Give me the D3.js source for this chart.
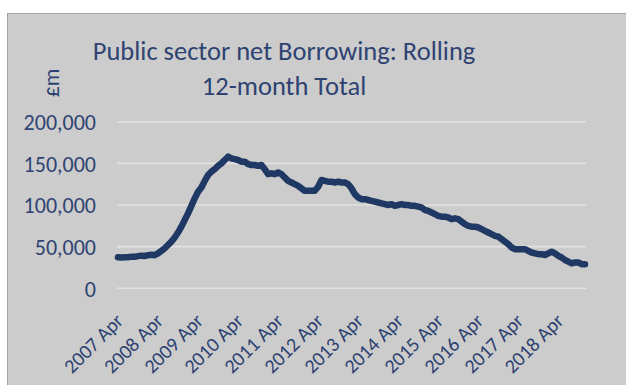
<!DOCTYPE html>
<html>
<head>
<meta charset="utf-8">
<script src="https://cdn.jsdelivr.net/npm/d3@7"></script>
<style>
  html, body { margin: 0; padding: 0; background: #ffffff; }
  svg { display: block; }
</style>
</head>
<body>
<svg id="chart" width="626" height="385"></svg>
<script>
// Rolling 12-month total of public sector net borrowing, £m (thousands), monthly Apr 2007 - Dec 2018
const startYear = 2007;
const monthNames = ["Jan","Feb","Mar","Apr","May","Jun","Jul","Aug","Sep","Oct","Nov","Dec"];
const borrowingK = [
  37.2, 37.0, 37.4, 37.3, 38.0, 37.8, 38.6, 39.2, 38.8, 39.8, 40.2, 39.8,
  42, 45, 48, 52, 56, 61, 67, 74, 82, 90, 99, 108,
  116, 121, 129, 136, 140, 143, 147, 150, 154, 158, 156, 155,
  154, 152, 152, 149, 148, 148, 147, 148, 143, 137, 138, 137,
  139, 137, 133, 129, 127, 125, 123, 120, 117, 117, 117, 117,
  122, 130, 129, 128, 128, 127, 128, 127, 127, 125, 120, 113,
  109, 107, 107, 106, 105, 104, 103, 102, 101, 100, 101, 99,
  100, 101, 100, 100, 99, 99, 98, 97, 94, 93, 91, 89,
  87, 86, 86, 85, 83, 84, 83, 80, 77, 75, 74, 74,
  73, 71, 69, 67, 65, 63, 62, 59, 56, 53, 49, 47,
  47, 47, 47, 45, 43, 42, 41, 41, 40, 42, 44, 42,
  39, 37, 34, 32, 30, 31, 31, 29, 29
];
const yTicks = [0, 50000, 100000, 150000, 200000];
const xTickLabels = ["2007 Apr","2008 Apr","2009 Apr","2010 Apr","2011 Apr","2012 Apr",
                     "2013 Apr","2014 Apr","2015 Apr","2016 Apr","2017 Apr","2018 Apr"];
const titleLines = ["Public sector net Borrowing: Rolling", "12-month Total"];
const unitLabel = "£m";

// Month labels, starting in April
const months = borrowingK.map((_, i) => {
  const m = 3 + i;
  return (startYear + Math.floor(m / 12)) + " " + monthNames[m % 12];
});
const series = months.map((m, i) => ({ month: m, value: borrowingK[i] * 1000 }));

const navy = "#1f3864";
const textColor = "#2e4372";
const font = "Carlito, 'Open Sans', 'Noto Sans', sans-serif";

const svg = d3.select("#chart");

// chart area
svg.append("rect")
  .attr("x", 7.5).attr("y", 13.5)
  .attr("width", 626).attr("height", 380)
  .attr("fill", "#cccccc")
  .attr("stroke", "#a3a3a3").attr("stroke-width", 1);

const x = d3.scalePoint().domain(months).range([118, 585]);
const y = d3.scaleLinear().domain([0, 200000]).range([288.3, 121.7]);

// gridlines
svg.append("g")
  .selectAll("line")
  .data(yTicks)
  .join("line")
  .attr("x1", 117).attr("x2", 586)
  .attr("y1", d => y(d)).attr("y2", d => y(d))
  .attr("stroke", "#e2e2e2").attr("stroke-width", 1.6);

// y axis labels
const yAxis = svg.append("g")
  .attr("transform", "translate(96,0)")
  .call(d3.axisLeft(y).tickValues(yTicks).tickSize(0).tickPadding(0)
    .tickFormat(d3.format(",")));
yAxis.select(".domain").remove();
yAxis.selectAll("text")
  .attr("fill", textColor)
  .attr("font-family", font)
  .attr("font-size", "22px")
  .attr("dy", "0.35em");

// x axis labels
const xAxis = svg.append("g")
  .attr("transform", "translate(0,300)")
  .call(d3.axisBottom(x).tickValues(xTickLabels).tickSize(0).tickPadding(0));
xAxis.select(".domain").remove();
xAxis.selectAll("text")
  .attr("fill", textColor)
  .attr("font-family", font)
  .attr("font-size", "20px")
  .attr("text-anchor", "end")
  .attr("dy", "0")
  .attr("transform", "translate(6,22) rotate(-45)");

// line
const line = d3.line()
  .x(d => x(d.month))
  .y(d => y(d.value));

svg.append("path")
  .datum(series)
  .attr("d", line)
  .attr("fill", "none")
  .attr("stroke", navy)
  .attr("stroke-width", 6.5)
  .attr("stroke-linejoin", "round")
  .attr("stroke-linecap", "round");

// title
svg.append("text")
  .attr("x", 284).attr("y", 60)
  .attr("text-anchor", "middle")
  .attr("fill", textColor)
  .attr("font-family", font)
  .attr("font-size", "26.5px")
  .selectAll("tspan")
  .data(titleLines)
  .join("tspan")
  .attr("x", 284)
  .attr("dy", (d, i) => i === 0 ? 0 : 35)
  .text(d => d);

// unit label
svg.append("text")
  .attr("transform", "translate(59,83) rotate(-90)")
  .attr("text-anchor", "middle")
  .attr("fill", textColor)
  .attr("font-family", font)
  .attr("font-size", "22px")
  .text(unitLabel);
</script>
</body>
</html>
